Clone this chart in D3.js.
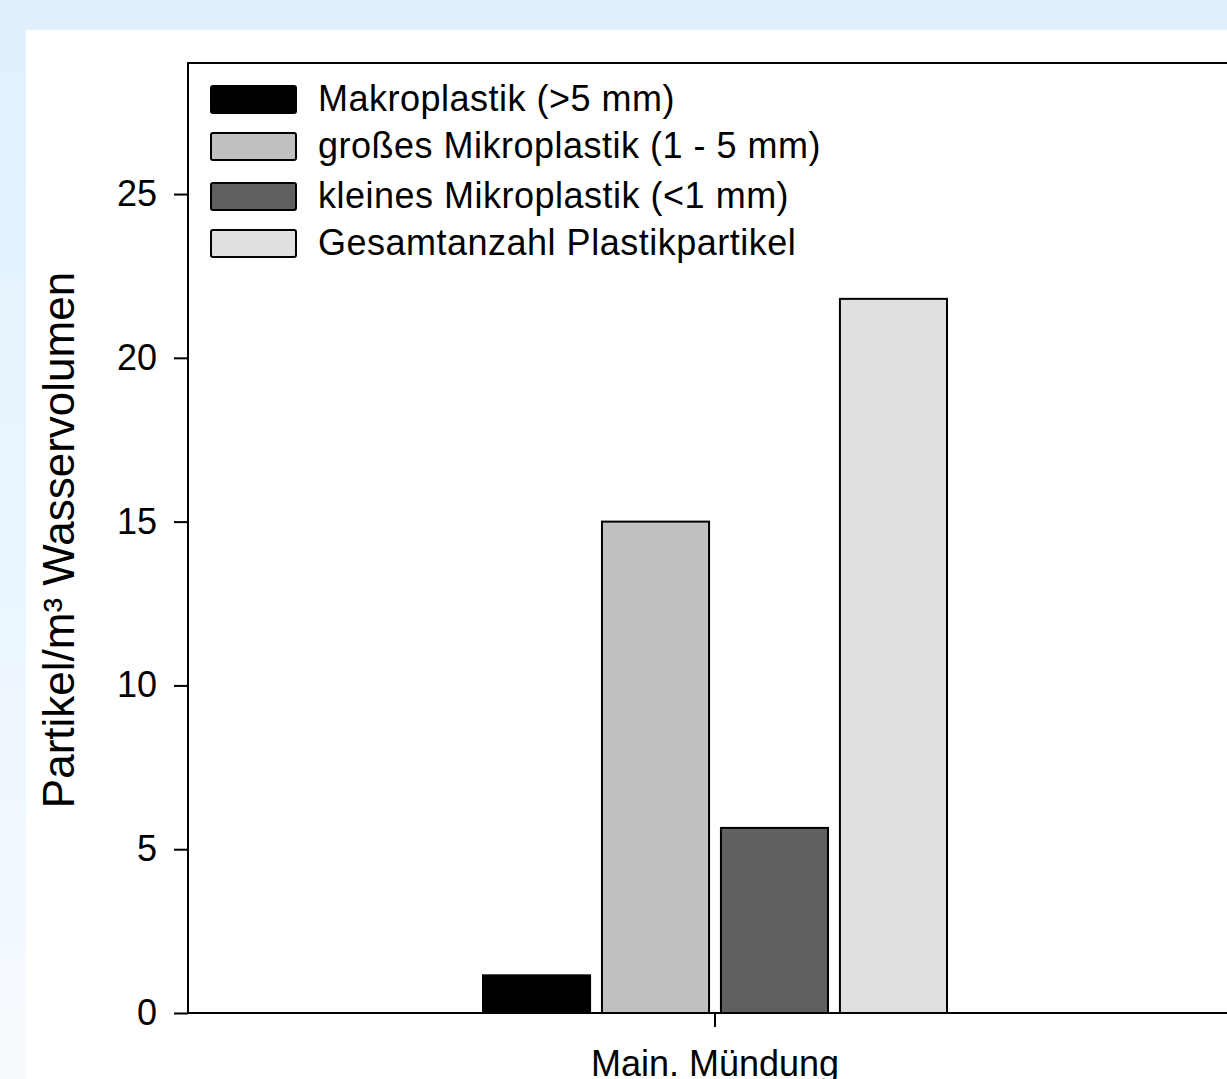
<!DOCTYPE html>
<html lang="de">
<head>
<meta charset="utf-8">
<title>Plastikpartikel Main</title>
<style>
  html, body { margin: 0; padding: 0; overflow: hidden; }
  body {
    width: 1227px; height: 1079px;
    background: linear-gradient(to bottom, #dff0fd 0%, #eaf5fe 50%, #f6fbff 100%);
  }
  svg { position: absolute; left: 0; top: 0; font-family: "Liberation Sans", Arial, sans-serif; }
</style>
<script src="https://d3js.org/d3.v7.min.js"></script>
</head>
<body>
<svg id="chart" width="1227" height="1079"></svg>
<script>
// data
const categories = ["Main. Mündung"];
const series = ["Makroplastik (>5 mm)", "großes Mikroplastik (1 - 5 mm)", "kleines Mikroplastik (<1 mm)", "Gesamtanzahl Plastikpartikel"];
const values = [1.15, 15.0, 5.65, 21.8];
const colors = ["#000000", "#c0c0c0", "#606060", "#e0e0e0"];
const yTicks = [0, 5, 10, 15, 20, 25];

const svg = d3.select("#chart");

// white panel
svg.append("rect").attr("x", 26).attr("y", 30).attr("width", 1227 - 26).attr("height", 1079 - 30).attr("fill", "#fff");

const pL = 188, pT = 63, pR = 1242, pB = 1013;

const y = d3.scaleLinear().domain([0, 29]).range([pB, pT]);
const x0 = d3.scaleBand().domain(categories).range([pL, pR]);
const x1 = d3.scaleBand().domain(series).range([483, 947]).paddingInner(0.1);

const g = svg.append("g");

// bars
g.selectAll("rect.bar")
  .data(values)
  .join("rect")
  .attr("class", "bar")
  .attr("x", (d, i) => x1(series[i]))
  .attr("width", x1.bandwidth())
  .attr("y", d => y(d))
  .attr("height", d => y(0) - y(d))
  .attr("fill", (d, i) => colors[i])
  .attr("stroke", "#000")
  .attr("stroke-width", 2);

// frame
g.append("rect")
  .attr("x", pL).attr("y", pT)
  .attr("width", pR - pL).attr("height", pB - pT)
  .attr("fill", "none").attr("stroke", "#000").attr("stroke-width", 2);

// y axis
const yAxis = g.append("g")
  .attr("transform", `translate(${pL},0)`)
  .call(d3.axisLeft(y).tickValues(yTicks).tickSize(14).tickPadding(17));
yAxis.select(".domain").remove();
yAxis.selectAll("line").attr("stroke", "#000").attr("stroke-width", 2);
yAxis.selectAll("text").attr("font-size", 36).attr("fill", "#000").attr("font-family", "Liberation Sans, Arial, sans-serif");

// x axis
const xAxis = g.append("g")
  .attr("transform", `translate(0,${pB})`)
  .call(d3.axisBottom(x0).tickSize(14).tickPadding(23));
xAxis.select(".domain").remove();
xAxis.selectAll("line").attr("stroke", "#000").attr("stroke-width", 2);
xAxis.selectAll("text").attr("font-size", 36).attr("fill", "#000").attr("font-family", "Liberation Sans, Arial, sans-serif");

// y label
svg.append("text")
  .attr("transform", `translate(74,540) rotate(-90)`)
  .attr("text-anchor", "middle")
  .attr("font-size", 44)
  .attr("fill", "#000")
  .text("Partikel/m³ Wasservolumen");

// legend
const legY = [99, 146, 196, 243];
const leg = svg.append("g").selectAll("g")
  .data(series)
  .join("g")
  .attr("transform", (d, i) => `translate(211,${legY[i]})`);
leg.append("rect")
  .attr("x", 0).attr("y", -13).attr("width", 85).attr("height", 27)
  .attr("rx", 2)
  .attr("fill", (d, i) => colors[i])
  .attr("stroke", "#000").attr("stroke-width", 2);
leg.append("text")
  .attr("x", 107).attr("y", 12)
  .attr("font-size", 36)
  .attr("letter-spacing", 0.5)
  .attr("fill", "#000")
  .text(d => d);
</script>
</body>
</html>
